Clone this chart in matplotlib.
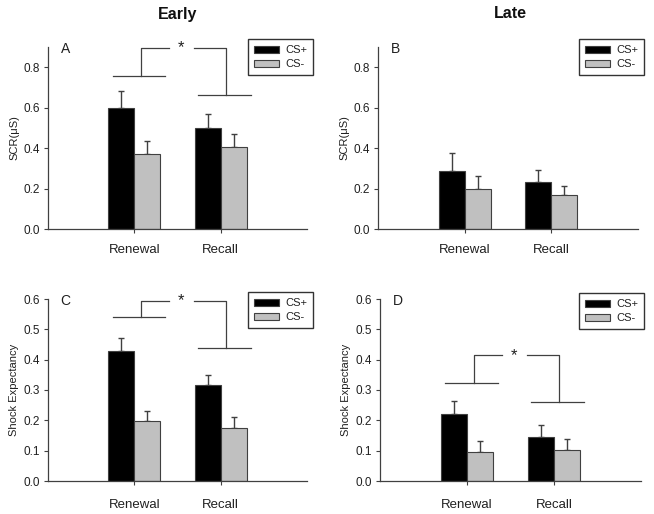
import matplotlib
matplotlib.use("Agg")
import matplotlib.pyplot as plt
from matplotlib.patches import Patch

plt.rcParams['font.family'] = ['Liberation Sans', 'DejaVu Sans']

categories = ["Renewal", "Recall"]
series_names = ["CS+", "CS-"]

# Panel A (Early SCR)
a_csp = [0.597, 0.497]
a_csm = [0.372, 0.405]
a_csp_err = [0.086, 0.072]
a_csm_err = [0.063, 0.067]
# Panel B (Late SCR)
b_csp = [0.288, 0.234]
b_csm = [0.196, 0.169]
b_csp_err = [0.086, 0.057]
b_csm_err = [0.066, 0.043]
# Panel C (Early Shock Expectancy)
c_csp = [0.427, 0.316]
c_csm = [0.197, 0.175]
c_csp_err = [0.046, 0.035]
c_csm_err = [0.035, 0.037]
# Panel D (Late Shock Expectancy)
d_csp = [0.220, 0.144]
d_csm = [0.097, 0.101]
d_csp_err = [0.045, 0.039]
d_csm_err = [0.035, 0.036]

scr_ticks = [0.0, 0.2, 0.4, 0.6, 0.8]
se_ticks = [0.0, 0.1, 0.2, 0.3, 0.4, 0.5, 0.6]

# significance brackets: (left_low_y, right_low_y, top_y)
a_sig = (0.756, 0.665, 0.897)
c_sig = (0.541, 0.438, 0.593)
d_sig = (0.322, 0.261, 0.414)

W, H = 654, 514
fig = plt.figure(figsize=(W / 100, H / 100), dpi=100)

LC = '#404040'
GRAY = '#c0c0c0'


def px_axes(l, r, b, t):
    return fig.add_axes([l / W, 1 - b / H, (r - l) / W, (b - t) / H])


def draw(ax, csp, csm, ep, em, ylim, ticks, ylabel, letter, sig, leg_box, xpad):
    x = [1, 2]
    w = 0.3
    xp = [i - w / 2 for i in x]
    xm = [i + w / 2 for i in x]
    ax.bar(xp, csp, w, color='black', edgecolor=LC, linewidth=0.8, zorder=2)
    ax.bar(xm, csm, w, color=GRAY, edgecolor=LC, linewidth=0.8, zorder=2)
    ax.errorbar(xp, csp, yerr=[[0, 0], ep], fmt='none', ecolor=LC,
                elinewidth=1, capsize=2.5, capthick=1, zorder=1)
    ax.errorbar(xm, csm, yerr=[[0, 0], em], fmt='none', ecolor=LC,
                elinewidth=1, capsize=2.5, capthick=1, zorder=1)
    ax.set_xlim(0, 3)
    ax.set_ylim(0, ylim)
    ax.set_yticks(ticks)
    ax.set_yticklabels([f"{t:.1f}" for t in ticks], fontsize=8.5, color='#202020')
    ax.set_xticks(x)
    ax.set_xticklabels(categories, fontsize=9.5, color='#202020')
    ax.tick_params(axis='x', length=3, width=0.8, color=LC, pad=xpad)
    ax.tick_params(axis='y', length=3, width=0.8, color=LC, pad=3)
    for s in ['top', 'right']:
        ax.spines[s].set_visible(False)
    for s in ['left', 'bottom']:
        ax.spines[s].set_color(LC)
        ax.spines[s].set_linewidth(0.9)
    ax.set_ylabel(ylabel, fontsize=8, color='#202020', labelpad=3)
    ax.text(0.2, ylim * 0.99, letter, fontsize=10, color='#202020', ha='center', va='center')
    if sig is not None:
        ly, ry, ty = sig
        ax.plot([0.75, 1.36], [ly, ly], color=LC, lw=0.9, clip_on=False)
        ax.plot([1.08, 1.08, 1.40], [ly, ty, ty], color=LC, lw=0.9, clip_on=False)
        ax.plot([1.69, 2.06, 2.06], [ty, ty, ry], color=LC, lw=0.9, clip_on=False)
        ax.plot([1.74, 2.35], [ry, ry], color=LC, lw=0.9, clip_on=False)
        ax.text(1.545, ty, '*', fontsize=12, color='#202020',
                ha='center', va='center')
    handles = [Patch(facecolor='black', edgecolor=LC, lw=0.8),
               Patch(facecolor=GRAY, edgecolor=LC, lw=0.8)]
    lx, ly_ = leg_box
    leg = fig.legend(handles, series_names, loc='upper right',
                     bbox_to_anchor=(lx / W, 1 - ly_ / H), fontsize=8,
                     frameon=True, fancybox=False, edgecolor='black',
                     handlelength=2.3, handleheight=0.6, handletextpad=0.5,
                     labelspacing=0.35, borderpad=0.55, borderaxespad=0)
    leg.get_frame().set_linewidth(1.0)
    for t in leg.get_texts():
        t.set_color('#202020')


axA = px_axes(48, 307, 229, 47)
axB = px_axes(378, 638, 229, 47)
axC = px_axes(48, 307, 481, 299)
axD = px_axes(380, 641, 481, 299)

draw(axA, a_csp, a_csm, a_csp_err, a_csm_err, 0.9, scr_ticks, "SCR(μS)", "A", a_sig, (313, 39), 8)
draw(axB, b_csp, b_csm, b_csp_err, b_csm_err, 0.9, scr_ticks, "SCR(μS)", "B", None, (644, 39), 8)
draw(axC, c_csp, c_csm, c_csp_err, c_csm_err, 0.6, se_ticks, "Shock Expectancy", "C", c_sig, (313, 292), 10)
draw(axD, d_csp, d_csm, d_csp_err, d_csm_err, 0.6, se_ticks, "Shock Expectancy", "D", d_sig, (644, 293), 10)

fig.text(178 / W, 1 - 14 / H, "Early", fontsize=11.5, fontweight='bold', ha='center', va='center', color='#101010')
fig.text(510 / W, 1 - 14 / H, "Late", fontsize=11.5, fontweight='bold', ha='center', va='center', color='#101010')

fig.savefig("out.png", dpi=100)
